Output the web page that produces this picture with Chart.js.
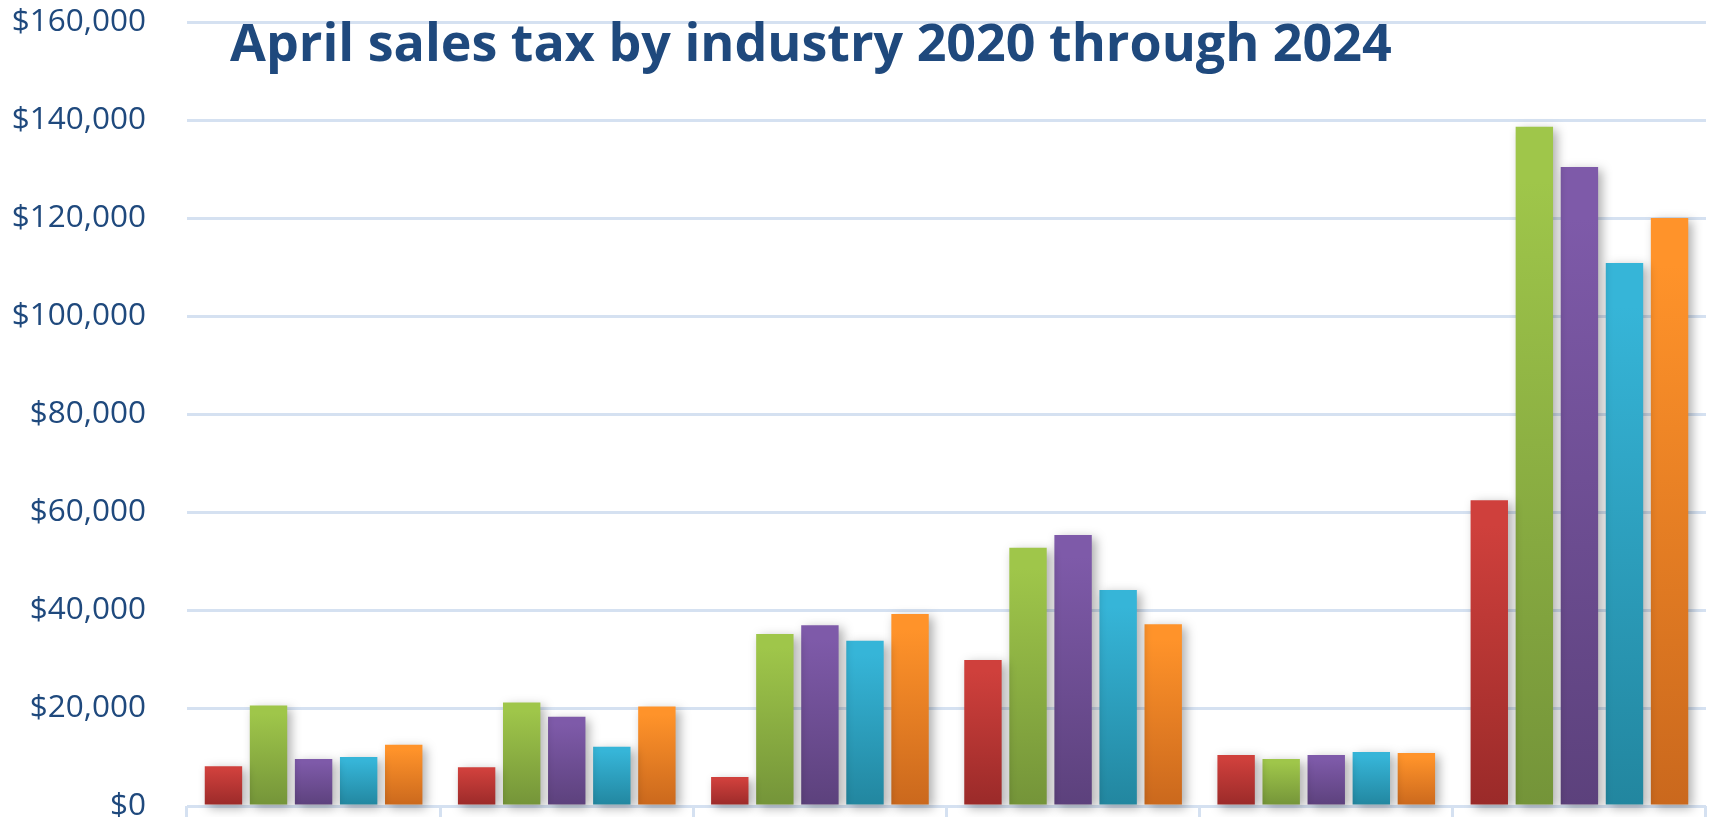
<!DOCTYPE html>
<html>
<head>
<meta charset="utf-8">
<title>April sales tax by industry 2020 through 2024</title>
<script src="https://cdn.jsdelivr.net/npm/chart.js@4.4.1/dist/chart.umd.min.js"></script>
<style>
  html, body { margin: 0; padding: 0; background: #fff; }
  #wrap { width: 1712px; height: 817px; position: relative; }
</style>
</head>
<body>
<div id="wrap"><canvas id="chart"></canvas></div>
<script>
// industries are not labelled in the picture, so these are placeholders
const categories = ['Industry 1', 'Industry 2', 'Industry 3', 'Industry 4', 'Industry 5', 'Industry 6'];
const years = ['2020', '2021', '2022', '2023', '2024'];

const sales2020 = [8100, 7900, 5900, 29800, 10400, 62400];
const sales2021 = [20500, 21100, 35100, 52700, 9600, 138600];
const sales2022 = [9600, 18200, 36900, 55300, 10400, 130400];
const sales2023 = [10000, 12100, 33700, 44100, 11000, 110800];
const sales2024 = [12500, 20300, 39200, 37100, 10800, 120000];

const yTicks = [0, 20000, 40000, 60000, 80000, 100000, 120000, 140000, 160000];

const titleText = 'April sales tax by industry 2020 through 2024';
const navy = '#1F497D';

// top / bottom colours of each bar gradient
const barColors = [
  ['#CF403C', '#9A2A29'],
  ['#9FC64A', '#749439'],
  ['#7E5AA9', '#5C417C'],
  ['#36B5D8', '#22869F'],
  ['#FF932A', '#CA681D'],
];

const seriesValues = [sales2020, sales2021, sales2022, sales2023, sales2024];

function barGradient(i) {
  return (context) => {
    if (context.type !== 'data') return barColors[i][0];
    const chart = context.chart;
    const yScale = chart.scales.y;
    if (!yScale || !chart.chartArea) return barColors[i][0];
    const top = yScale.getPixelForValue(context.raw);
    const base = yScale.getPixelForValue(0);
    if (!isFinite(top) || !isFinite(base) || top === base) return barColors[i][0];
    const g = chart.ctx.createLinearGradient(0, top, 0, base);
    g.addColorStop(0, barColors[i][0]);
    g.addColorStop(0.08, barColors[i][0]);
    g.addColorStop(1, barColors[i][1]);
    return g;
  };
}

const datasets = years.map((year, i) => ({
  label: year,
  data: seriesValues[i],
  backgroundColor: barGradient(i),
  borderWidth: 0,
  categoryPercentage: 0.89,
  barPercentage: 0.83,
  clip: false,
}));

// soft drop shadow behind the bars
const barShadow = {
  id: 'barShadow',
  beforeDatasetsDraw(chart) {
    const ctx = chart.ctx;
    ctx.save();
    ctx.shadowColor = 'rgba(0, 0, 0, 0.32)';
    ctx.shadowBlur = 10;
    ctx.shadowOffsetX = 4;
    ctx.shadowOffsetY = 3;
  },
  afterDatasetsDraw(chart) {
    chart.ctx.restore();
  },
};

// title sits inside the plot, over the top gridline
const overlayTitle = {
  id: 'overlayTitle',
  afterDraw(chart) {
    const ctx = chart.ctx;
    ctx.save();
    ctx.font = 'bold 50px "Open Sans", sans-serif';
    const w = ctx.measureText(titleText).width;
    const size = Math.round(50 * 1152 / w);
    ctx.font = 'bold ' + size + 'px "Open Sans", sans-serif';
    ctx.fillStyle = navy;
    ctx.textAlign = 'left';
    ctx.textBaseline = 'alphabetic';
    ctx.fillText(titleText, 230, 61);
    ctx.restore();
  },
};

new Chart(document.getElementById('chart'), {
  type: 'bar',
  data: { labels: categories, datasets: datasets },
  plugins: [barShadow, overlayTitle],
  options: {
    responsive: true,
    maintainAspectRatio: false,
    animation: false,
    layout: { padding: { top: 22, right: 6, bottom: 0, left: 0 } },
    plugins: {
      legend: { display: false },
      title: { display: false },
      tooltip: { enabled: false },
    },
    scales: {
      x: {
        offset: true,
        grid: {
          offset: true,
          drawOnChartArea: false,
          drawTicks: true,
          tickLength: 11,
          color: '#D5E1F1',
          lineWidth: 3,
        },
        border: { display: false },
        ticks: { display: false },
      },
      y: {
        min: 0,
        max: 160000,
        afterBuildTicks: (scale) => {
          scale.ticks = yTicks.map((v) => ({ value: v }));
        },
        afterFit: (scale) => {
          scale.width = 187;
          scale.paddingTop = 0;
          scale.paddingBottom = 0;
        },
        grid: {
          color: '#D5E1F1',
          lineWidth: 3,
          drawTicks: false,
        },
        border: { display: false },
        ticks: {
          padding: 41,
          color: navy,
          font: { family: '"Open Sans", sans-serif', size: 31.5 },
          callback: (v) => '$' + Number(v).toLocaleString('en-US'),
        },
      },
    },
  },
});
</script>
</body>
</html>
